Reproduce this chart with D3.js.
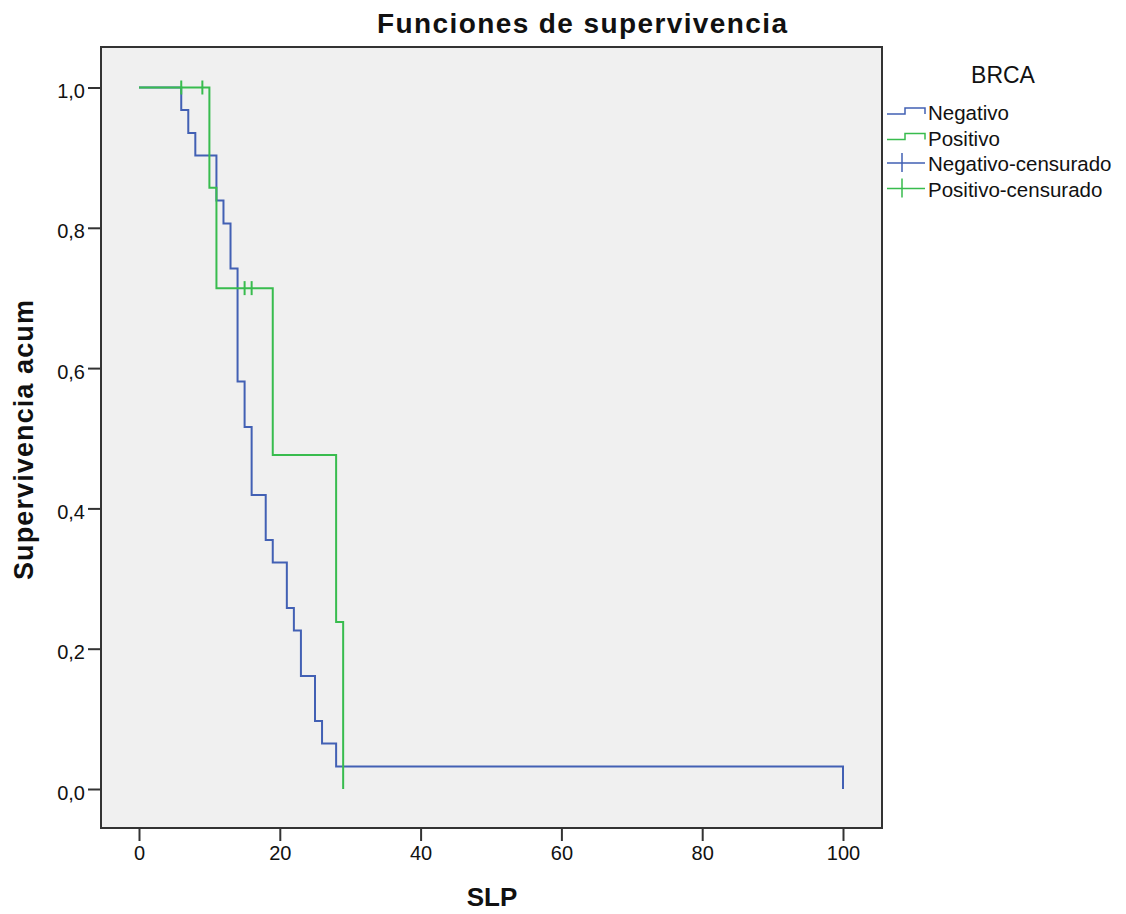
<!DOCTYPE html>
<html>
<head>
<meta charset="utf-8">
<script src="https://cdn.jsdelivr.net/npm/d3@7"></script>
<style>
  body { margin: 0; background: #fff; }
  text { font-family: "Liberation Sans", Arial, sans-serif; fill: #111; }
</style>
</head>
<body>
<svg id="chart" width="1126" height="914"></svg>
<script>
// tiempos de evento y supervivencia acumulada (Kaplan-Meier)
var negTimes = [0, 6, 7, 8, 11, 12, 13, 14, 15, 16, 18, 19, 21, 22, 23, 25, 26, 28, 100];
var negSurv  = [1, 0.968, 0.935, 0.903, 0.839, 0.806, 0.742, 0.581, 0.516, 0.419, 0.355, 0.323, 0.258, 0.226, 0.161, 0.097, 0.065, 0.032, 0];
var posTimes = [0, 10, 11, 19, 28, 29];
var posSurv  = [1, 0.857, 0.714, 0.476, 0.238, 0];
var posCensTimes = [6, 9, 15, 16];
var posCensSurv  = [1, 1, 0.714, 0.714];
var negCensTimes = [];
var negCensSurv  = [];

var xTicks = [0, 20, 40, 60, 80, 100];
var yTicks = [0, 0.2, 0.4, 0.6, 0.8, 1.0];
var legendLabels = ["Negativo", "Positivo", "Negativo-censurado", "Positivo-censurado"];

var blue = "#4260b4", green = "#38bc4e";

var svg = d3.select("#chart");
var frame = {left: 101, top: 47, right: 882, bottom: 828};

var x = d3.scaleLinear().domain([0, 100]).range([139, 843]);
var y = d3.scaleLinear().domain([0, 1]).range([789, 87.5]);

svg.append("rect")
    .attr("x", frame.left).attr("y", frame.top)
    .attr("width", frame.right - frame.left).attr("height", frame.bottom - frame.top)
    .attr("fill", "#f0f0f0").attr("stroke", "#333").attr("stroke-width", 2);

var fmt = function(d) { return d3.format(".1f")(d).replace(".", ","); };

var gy = svg.append("g").attr("transform", "translate(" + frame.left + ",0)")
    .call(d3.axisLeft(y).tickValues(yTicks).tickFormat(fmt).tickSize(13).tickSizeOuter(0).tickPadding(3));
var gx = svg.append("g").attr("transform", "translate(0," + frame.bottom + ")")
    .call(d3.axisBottom(x).tickValues(xTicks).tickSize(13).tickSizeOuter(0).tickPadding(5));
[gy, gx].forEach(function(g) {
    g.select(".domain").remove();
    g.selectAll(".tick line").attr("stroke", "#333").attr("stroke-width", 2);
    g.selectAll(".tick text").attr("font-size", 20).attr("font-family", "Liberation Sans, Arial, sans-serif").attr("fill", "#111");
});
gy.selectAll(".tick text").attr("dy", "0.5em");

var line = d3.line()
    .x(function(d) { return x(d[0]); })
    .y(function(d) { return y(d[1]); })
    .curve(d3.curveStepAfter);

function series(times, surv, color) {
    svg.append("path")
        .datum(d3.zip(times, surv))
        .attr("d", line)
        .attr("fill", "none").attr("stroke", color).attr("stroke-width", 2);
}
function censored(times, surv, color) {
    svg.append("g").selectAll("line")
        .data(d3.zip(times, surv))
        .enter().append("line")
        .attr("x1", function(d) { return x(d[0]); })
        .attr("x2", function(d) { return x(d[0]); })
        .attr("y1", function(d) { return y(d[1]) - 7; })
        .attr("y2", function(d) { return y(d[1]) + 7; })
        .attr("stroke", color).attr("stroke-width", 2);
}

series(negTimes, negSurv, blue);
series(posTimes, posSurv, green);
censored(negCensTimes, negCensSurv, blue);
censored(posCensTimes, posCensSurv, green);

// titulos
svg.append("text").attr("x", 582).attr("y", 33).attr("text-anchor", "middle")
    .attr("font-size", 28).attr("font-weight", "bold")
    .attr("textLength", 410).attr("lengthAdjust", "spacing")
    .text("Funciones de supervivencia");
svg.append("text").attr("x", 492).attr("y", 906).attr("text-anchor", "middle")
    .attr("font-size", 26).attr("font-weight", "bold")
    .text("SLP");
svg.append("text").attr("transform", "translate(33,440) rotate(-90)").attr("text-anchor", "middle")
    .attr("font-size", 27).attr("font-weight", "bold")
    .attr("textLength", 280).attr("lengthAdjust", "spacing")
    .text("Supervivencia acum");

// leyenda
var leg = svg.append("g");
leg.append("text").attr("x", 1003).attr("y", 83).attr("text-anchor", "middle")
    .attr("font-size", 23).text("BRCA");
var legColors = [blue, green, blue, green];
legendLabels.forEach(function(lab, i) {
    var cy = 112 + i * 25.5;
    if (i < 2) {
        leg.append("path")
            .attr("d", "M887," + (cy + 2) + "H905V" + (cy - 4) + "H925V" + (cy + 2))
            .attr("fill", "none").attr("stroke", legColors[i]).attr("stroke-width", 1.5);
    } else {
        leg.append("path")
            .attr("d", "M887," + cy + "H925M902," + (cy - 10) + "V" + (cy + 9))
            .attr("fill", "none").attr("stroke", legColors[i]).attr("stroke-width", 1.5);
    }
    leg.append("text").attr("x", 928).attr("y", cy + 8)
        .attr("font-size", 20.5).text(lab);
});
</script>
</body>
</html>
